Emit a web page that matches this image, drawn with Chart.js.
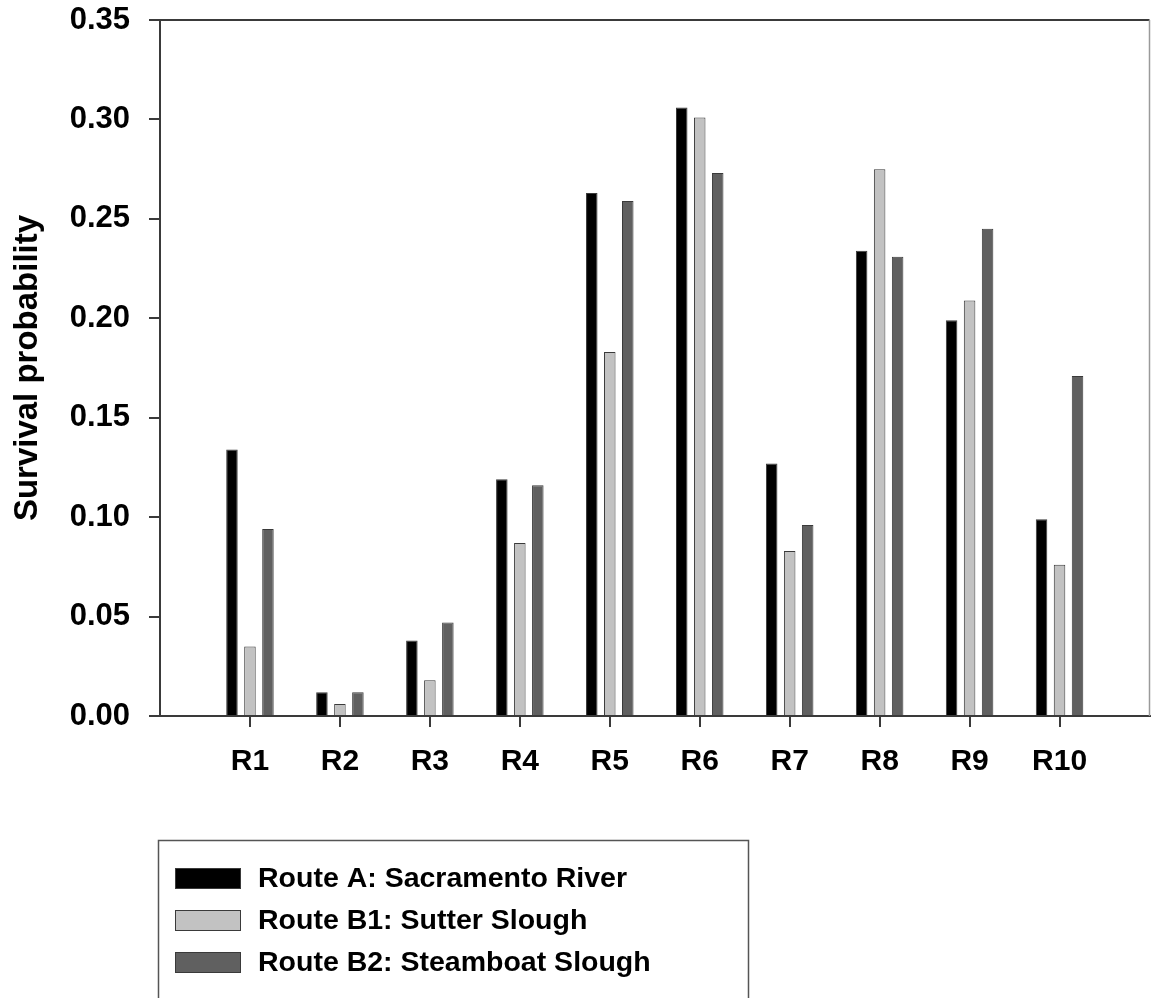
<!DOCTYPE html>
<html>
<head>
<meta charset="utf-8">
<title>Survival probability by release group and route</title>
<script src="https://cdn.jsdelivr.net/npm/chart.js@4.4.1/dist/chart.umd.min.js"></script>
<style>
  html, body { margin: 0; padding: 0; background: #ffffff; }
  #wrap { width: 1151px; height: 998px; position: relative; }
</style>
</head>
<body>
<div id="wrap"><canvas id="chart" width="1151" height="998"></canvas></div>
<script>
// Release groups and per-route survival estimates
const releases = ['R1', 'R2', 'R3', 'R4', 'R5', 'R6', 'R7', 'R8', 'R9', 'R10'];
const routeA  = [0.134, 0.012, 0.038, 0.119, 0.263, 0.306, 0.127, 0.234, 0.199, 0.099];
const routeB1 = [0.035, 0.006, 0.018, 0.087, 0.183, 0.301, 0.083, 0.275, 0.209, 0.076];
const routeB2 = [0.094, 0.012, 0.047, 0.116, 0.259, 0.273, 0.096, 0.231, 0.245, 0.171];
const seriesNames = ['Route A: Sacramento River', 'Route B1: Sutter Slough', 'Route B2: Steamboat Slough'];
const yTicks = [0.00, 0.05, 0.10, 0.15, 0.20, 0.25, 0.30, 0.35];

const FONT = '"Liberation Sans", Arial, Helvetica, sans-serif';
const AXIS = '#3a3a3a';

// one empty slot on each side so the groups sit inside the frame
const labels = [''].concat(releases, ['']);
const pad = arr => [null].concat(arr, [null]);

// top and right frame lines
const framePlugin = {
  id: 'frame',
  afterDraw(chart) {
    const { ctx, chartArea: a } = chart;
    ctx.save();
    ctx.strokeStyle = AXIS;
    ctx.lineWidth = 2;
    ctx.beginPath();
    ctx.moveTo(a.left - 10, a.top);
    ctx.lineTo(a.right, a.top);
    ctx.stroke();
    ctx.strokeStyle = '#9a9a9a';
    ctx.lineWidth = 1.5;
    ctx.beginPath();
    ctx.moveTo(a.right, a.top);
    ctx.lineTo(a.right, a.bottom);
    ctx.stroke();
    ctx.restore();
  }
};

// boxed legend below the plot
const boxLegend = {
  id: 'boxLegend',
  afterDraw(chart) {
    const ctx = chart.ctx;
    ctx.save();
    ctx.strokeStyle = '#555555';
    ctx.lineWidth = 1.5;
    ctx.beginPath();
    ctx.moveTo(158.5, 1010);
    ctx.lineTo(158.5, 840.5);
    ctx.lineTo(748.5, 840.5);
    ctx.lineTo(748.5, 1010);
    ctx.stroke();
    chart.data.datasets.forEach((ds, i) => {
      const cy = 878.5 + i * 42;
      ctx.fillStyle = ds.backgroundColor;
      ctx.fillRect(175, cy - 10.5, 66, 21);
      ctx.strokeStyle = '#3a3a3a';
      ctx.lineWidth = 1;
      ctx.strokeRect(175.5, cy - 10, 65, 20);
      ctx.fillStyle = '#000000';
      ctx.font = 'bold 28.5px ' + FONT;
      ctx.textBaseline = 'middle';
      ctx.textAlign = 'left';
      ctx.fillText(ds.label, 258, cy + 1);
    });
    ctx.restore();
  }
};

const barStyle = { borderWidth: 1, borderColor: '#3a3a3a', categoryPercentage: 0.6, barPercentage: 0.64 };

new Chart(document.getElementById('chart'), {
  type: 'bar',
  data: {
    labels: labels,
    datasets: [
      Object.assign({ label: seriesNames[0], data: pad(routeA),  backgroundColor: '#000000' }, barStyle),
      Object.assign({ label: seriesNames[1], data: pad(routeB1), backgroundColor: '#c2c2c2' }, barStyle),
      Object.assign({ label: seriesNames[2], data: pad(routeB2), backgroundColor: '#606060' }, barStyle)
    ]
  },
  options: {
    responsive: false,
    animation: false,
    layout: { padding: { top: 20, right: 1.5, bottom: 0, left: 0 } },
    plugins: {
      legend: { display: false },
      tooltip: { enabled: false }
    },
    scales: {
      x: {
        offset: false,
        grid: {
          offset: false,
          drawOnChartArea: false,
          // long tick slot for label spacing, only the first 10px is stroked
          tickLength: 28,
          tickBorderDash: [10, 100],
          lineWidth: 2,
          color: ctx => (ctx.index === 0 || ctx.index === labels.length - 1) ? 'rgba(0,0,0,0)' : AXIS
        },
        border: { display: true, color: AXIS, width: 2 },
        ticks: {
          autoSkip: false,
          maxRotation: 0,
          padding: 0,
          color: '#000000',
          font: { family: FONT, size: 30, weight: 'bold' }
        },
        afterFit(scale) { scale.height = 282; }
      },
      y: {
        min: 0,
        max: 0.35,
        afterBuildTicks(scale) { scale.ticks = yTicks.map(v => ({ value: v })); },
        grid: {
          drawOnChartArea: false,
          // long tick slot for label spacing, only the 10px next to the axis is stroked
          tickLength: 29,
          tickBorderDash: [0, 18, 10, 100],
          lineWidth: 2,
          color: AXIS
        },
        border: { display: true, color: AXIS, width: 2 },
        ticks: {
          padding: 1,
          color: '#000000',
          font: { family: FONT, size: 31, weight: 'bold' },
          callback: v => Number(v).toFixed(2)
        },
        title: {
          display: true,
          text: 'Survival probability',
          color: '#000000',
          padding: { top: 8, bottom: 0 },
          font: { family: FONT, size: 33, weight: 'bold' }
        },
        afterFit(scale) { scale.width = 160; }
      }
    }
  },
  plugins: [framePlugin, boxLegend]
});
</script>
</body>
</html>
